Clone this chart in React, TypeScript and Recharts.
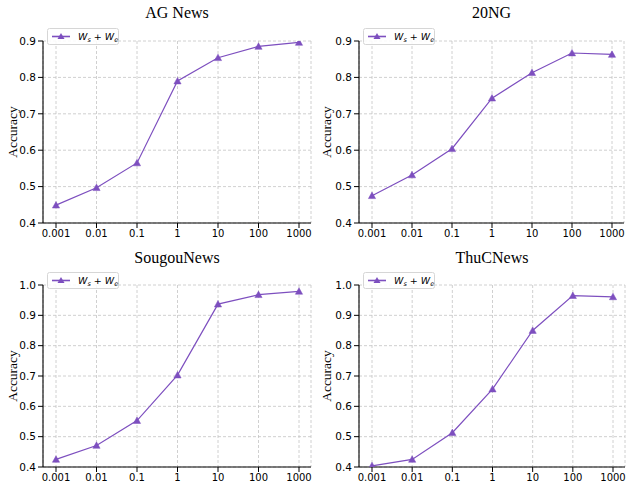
import React from 'react';
import { LineChart, Line, XAxis, YAxis, CartesianGrid, Legend } from 'recharts';

const xLabels = ['0.001', '0.01', '0.1', '1', '10', '100', '1000'];
const agNews = [0.449, 0.497, 0.565, 0.79, 0.854, 0.885, 0.896];
const ng20 = [0.475, 0.532, 0.604, 0.743, 0.813, 0.867, 0.863];
const sougou = [0.425, 0.471, 0.553, 0.703, 0.937, 0.968, 0.979];
const thuc = [0.404, 0.425, 0.513, 0.657, 0.85, 0.965, 0.961];

const ticksTop = [0.4, 0.5, 0.6, 0.7, 0.8, 0.9];
const ticksBottom = [0.4, 0.5, 0.6, 0.7, 0.8, 0.9, 1.0];

const COLOR = '#7d4fbf';

const Triangle = (props: any) => {
  const { cx, cy } = props;
  if (cx == null || cy == null) return null;
  const s = 3.6;
  return (
    <path
      d={`M${cx},${cy - s} L${cx + s},${cy + s * 0.8} L${cx - s},${cy + s * 0.8} Z`}
      fill={COLOR}
      stroke={COLOR}
      strokeWidth={0.5}
    />
  );
};

const LegendBox = () => (
  <svg width={72} height={17} style={{ display: 'block' }}>
    <rect x={0.5} y={0.5} width={71} height={16} rx={2} fill="rgba(255,255,255,0.85)" stroke="#d6d6d6" />
    <line x1={5} y1={8.5} x2={23} y2={8.5} stroke={COLOR} strokeWidth={1.6} />
    <path d="M14,5 L17.5,11 L10.5,11 Z" fill={COLOR} />
    <text x={31} y={12} fontFamily="DejaVu Sans" fontSize={9.5} fill="#000">
      <tspan fontStyle="italic">W</tspan>
      <tspan fontStyle="italic" fontSize={6.5} dy={2}>s</tspan>
      <tspan dy={-2}> + </tspan>
      <tspan fontStyle="italic">W</tspan>
      <tspan fontStyle="italic" fontSize={6.5} dy={2}>e</tspan>
    </text>
  </svg>
);

type PanelProps = {
  title: string;
  values: number[];
  left: number;
  top: number;
  width: number;
  height: number;
  plotLeft: number;
  plotRight: number;
  plotTop: number;
  plotBottom: number;
  yDomain: [number, number];
  yTicks: number[];
  titleBaseline: number;
  labelX: number;
};

const Panel = (p: PanelProps) => {
  const data = xLabels.map((l, i) => ({ label: l, acc: p.values[i] }));
  const xAxisHeight = p.height - p.plotBottom;
  return (
    <div style={{ position: 'absolute', left: p.left, top: p.top, width: p.width, height: p.height }}>
      <div
        style={{
          position: 'absolute',
          left: p.plotLeft,
          width: p.plotRight - p.plotLeft,
          top: p.titleBaseline - 13.6,
          textAlign: 'center',
          fontFamily: "'Liberation Serif', serif",
          fontWeight: 'normal',
          fontSize: 16,
          lineHeight: '16px',
          color: '#000',
        }}
      >
        {p.title}
      </div>
      <LineChart
        width={p.width}
        height={p.height}
        data={data}
        margin={{ top: p.plotTop, right: p.width - p.plotRight, bottom: 0, left: 0 }}
        style={{ position: 'absolute', left: 0, top: 0 }}
      >
        <CartesianGrid stroke="#c4c4c4" strokeWidth={0.8} strokeDasharray="3 2" />
        <XAxis
          dataKey="label"
          type="category"
          padding={{ left: 13, right: 12 }}
          height={xAxisHeight}
          tickSize={5}
          tickMargin={2}
          interval={0}
          axisLine={{ stroke: '#000', strokeWidth: 1.1 }}
          tickLine={{ stroke: '#000', strokeWidth: 1 }}
          tick={{ fill: '#000', fontFamily: 'DejaVu Sans', fontSize: 10 }}
        />
        <XAxis
          xAxisId="top"
          dataKey="label"
          orientation="top"
          height={0}
          tick={false}
          tickLine={false}
          axisLine={{ stroke: '#000', strokeWidth: 1.1 }}
        />
        <YAxis
          type="number"
          domain={p.yDomain}
          ticks={p.yTicks}
          width={p.plotLeft}
          tickSize={5}
          tickMargin={2}
          interval={0}
          allowDataOverflow
          tickFormatter={(v: number) => v.toFixed(1)}
          axisLine={{ stroke: '#000', strokeWidth: 1.1 }}
          tickLine={{ stroke: '#000', strokeWidth: 1 }}
          tick={{ fill: '#000', fontFamily: 'DejaVu Sans', fontSize: 10.5 }}
          label={{
            content: (props: any) => {
              const vb = props.viewBox || {};
              const cy = (vb.y ?? p.plotTop) + (vb.height ?? p.plotBottom - p.plotTop) / 2;
              const x = p.labelX;
              return (
                <text
                  x={x}
                  y={cy}
                  transform={`rotate(-90, ${x}, ${cy})`}
                  textAnchor="middle"
                  fontFamily="'Liberation Serif', serif"
                  fontSize={13.5}
                  dy={5}
                  fill="#000"
                >
                  Accuracy
                </text>
              );
            },
          }}
        />
        <YAxis
          yAxisId="right"
          orientation="right"
          width={0}
          domain={p.yDomain}
          tick={false}
          tickLine={false}
          axisLine={{ stroke: '#000', strokeWidth: 1.1 }}
        />
        <Legend
          verticalAlign="top"
          align="left"
          wrapperStyle={{ position: 'absolute', left: p.plotLeft + 4, top: p.plotTop + 4, width: 'auto' }}
          content={() => <LegendBox />}
        />
        <Line
          type="linear"
          dataKey="acc"
          name="Ws + We"
          stroke={COLOR}
          strokeWidth={1.2}
          dot={<Triangle />}
          activeDot={false}
          isAnimationActive={false}
        />
      </LineChart>
    </div>
  );
};

export default function App() {
  return (
    <div style={{ position: 'absolute', left: 0, top: 0, width: 627, height: 484, background: '#fff' }}>
      <Panel
        title="AG News"
        values={agNews}
        left={0}
        top={0}
        width={320}
        height={242}
        plotLeft={43}
        plotRight={311}
        plotTop={24}
        plotBottom={223}
        yDomain={[0.4, 0.9]}
        yTicks={ticksTop}
        titleBaseline={19}
        labelX={12}
      />
      <Panel
        title="20NG"
        values={ng20}
        left={310}
        top={0}
        width={317}
        height={242}
        plotLeft={49}
        plotRight={314}
        plotTop={24}
        plotBottom={223}
        yDomain={[0.4, 0.9]}
        yTicks={ticksTop}
        titleBaseline={19}
        labelX={16}
      />
      <Panel
        title="SougouNews"
        values={sougou}
        left={0}
        top={242}
        width={320}
        height={242}
        plotLeft={43}
        plotRight={311}
        plotTop={26}
        plotBottom={225}
        yDomain={[0.4, 1.0]}
        yTicks={ticksBottom}
        titleBaseline={22}
        labelX={12}
      />
      <Panel
        title="ThuCNews"
        values={thuc}
        left={310}
        top={242}
        width={317}
        height={242}
        plotLeft={49}
        plotRight={315}
        plotTop={26}
        plotBottom={225}
        yDomain={[0.4, 1.0]}
        yTicks={ticksBottom}
        titleBaseline={22}
        labelX={16}
      />
    </div>
  );
}
